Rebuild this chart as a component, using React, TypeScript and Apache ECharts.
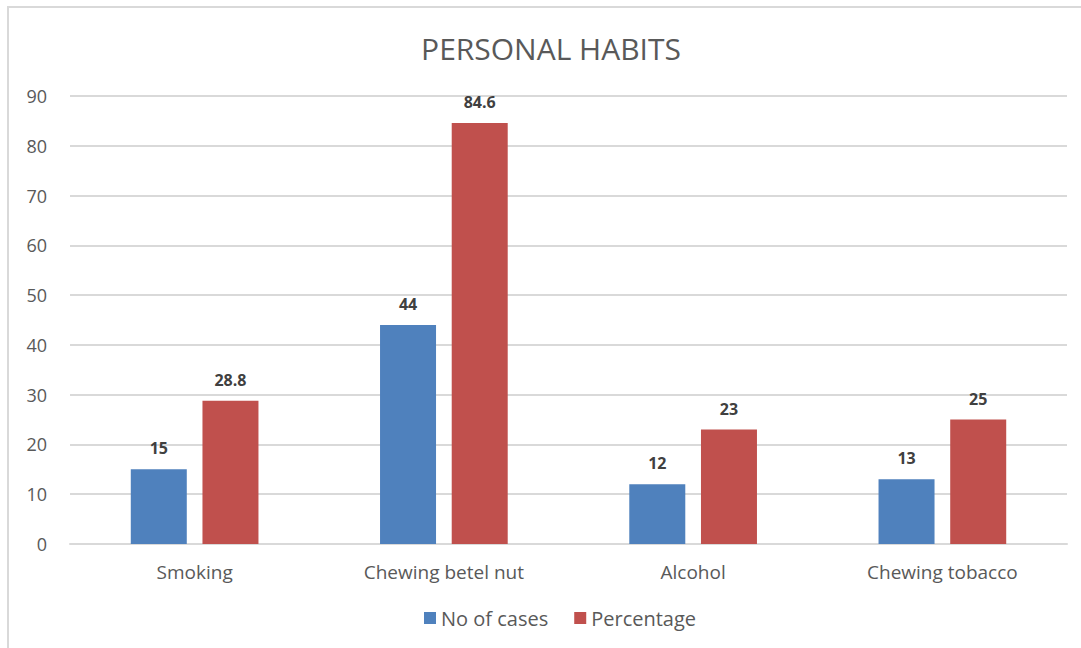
import React, { useEffect, useRef } from "react";
import * as echarts from "echarts";

const categories = ["Smoking", "Chewing betel nut", "Alcohol", "Chewing tobacco"];
const noOfCases = [15, 44, 12, 13];
const percentage = [28.8, 84.6, 23, 25];
const seriesNames = ["No of cases", "Percentage"];
const chartTitle = "PERSONAL HABITS";

const FONT = "'Open Sans', 'Noto Sans', sans-serif";

export default function App() {
  const ref = useRef<HTMLDivElement>(null);

  useEffect(() => {
    if (!ref.current) return;
    const chart = echarts.init(ref.current, undefined, { renderer: "svg" });
    const labelStyle = {
      show: true,
      position: "top" as const,
      distance: 13,
      color: "#404040",
      fontFamily: FONT,
      fontWeight: "bold" as const,
      fontSize: 16,
    };
    chart.setOption({
      animation: false,
      backgroundColor: "#ffffff",
      textStyle: { fontFamily: FONT },
      graphic: [
        {
          type: "rect",
          shape: { x: 8, y: 7, width: 1200, height: 800 },
          style: { fill: "none", stroke: "#d9d9d9", lineWidth: 2 },
          silent: true,
        },
        {
          type: "text",
          x: 551,
          y: 48,
          style: {
            text: chartTitle,
            fill: "#595959",
            fontSize: 30,
            fontFamily: FONT,
            textAlign: "center",
            textVerticalAlign: "middle",
          },
          silent: true,
        },
      ],
      legend: {
        data: seriesNames,
        bottom: 15,
        left: 419,
        itemWidth: 12,
        itemHeight: 12,
        itemGap: 26,
        icon: "rect",
        textStyle: { color: "#595959", fontSize: 20, fontFamily: FONT },
      },
      grid: { left: 70, right: 14, top: 96, bottom: 104 },
      xAxis: {
        type: "category",
        data: categories,
        axisLine: { lineStyle: { color: "#d9d9d9", width: 2 } },
        axisTick: { show: false },
        axisLabel: { color: "#595959", fontSize: 19, margin: 18, fontFamily: FONT },
      },
      yAxis: {
        type: "value",
        min: 0,
        max: 90,
        interval: 10,
        axisLine: { show: false },
        axisTick: { show: false },
        axisLabel: { color: "#595959", fontSize: 18, margin: 23, fontFamily: FONT },
        splitLine: { lineStyle: { color: "#d9d9d9", width: 2 } },
      },
      series: [
        {
          name: seriesNames[0],
          type: "bar",
          data: noOfCases,
          barWidth: 56,
          barGap: "28%",
          itemStyle: { color: "#4f81bd" },
          label: labelStyle,
        },
        {
          name: seriesNames[1],
          type: "bar",
          data: percentage,
          barWidth: 56,
          itemStyle: { color: "#c0504d" },
          label: labelStyle,
        },
      ],
    });
    return () => chart.dispose();
  }, []);

  return (
    <div
      ref={ref}
      style={{ position: "fixed", left: 0, top: 0, width: 1081, height: 648 }}
    />
  );
}
